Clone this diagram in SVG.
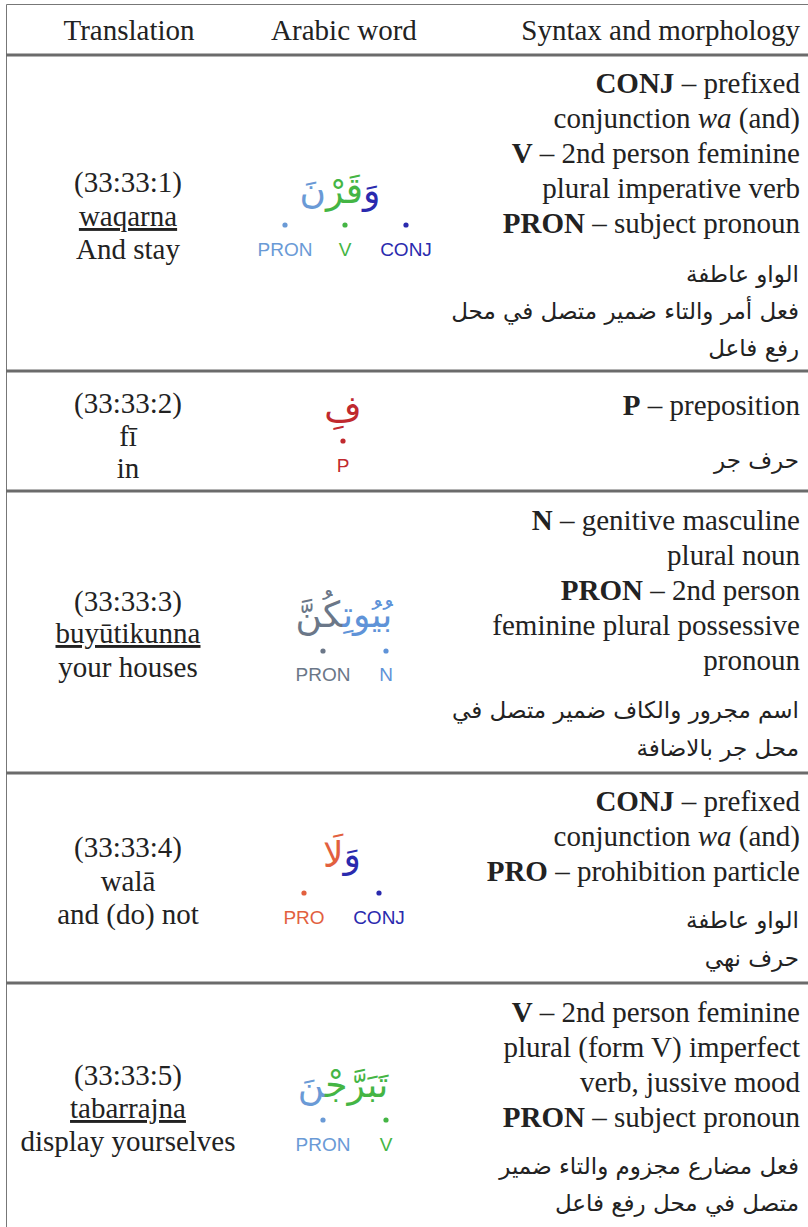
<svg xmlns="http://www.w3.org/2000/svg" width="808" height="1227" viewBox="0 0 808 1227">
<style>
.t{font-family:"Liberation Serif","Times New Roman",serif;font-size:29px;fill:#222}
.c{text-anchor:middle}
.r{text-anchor:end}
.b{font-weight:bold}
.i{font-style:italic}
.u{text-decoration:underline}
.ar{font-family:"DejaVu Sans",sans-serif;font-size:23px;fill:#222;text-anchor:end}
.aw{font-family:"DejaVu Sans",sans-serif;font-size:36px;text-anchor:middle}
.lb{font-family:"Liberation Sans",Arial,sans-serif;font-size:19px;text-anchor:middle}
.thin{stroke:#777;stroke-width:1;fill:none}
.thick{stroke:#6b6b6b;stroke-width:3;fill:none}
.conj{fill:#2a2aae}
.v{fill:#44b544}
.pron{fill:#6a9ad6}
.pron2{fill:#6b7788}
.n{fill:#5f93d8}
.p{fill:#c0292e}
.pro{fill:#e2603e}
</style>
<rect width="808" height="1227" fill="#fff"/>
<g id="grid">
<line class="thin" x1="6.5" y1="4.5" x2="808" y2="4.5"/>
<line class="thin" x1="6.5" y1="4.5" x2="6.5" y2="1227"/>
<line class="thick" x1="6" y1="55" x2="808" y2="55"/>
<line class="thick" x1="6" y1="371" x2="808" y2="371"/>
<line class="thick" x1="6" y1="491" x2="808" y2="491"/>
<line class="thick" x1="6" y1="773" x2="808" y2="773"/>
<line class="thick" x1="6" y1="983" x2="808" y2="983"/>
</g>
<g id="header">
<text class="t c" x="129" y="40">Translation</text>
<text class="t c" x="344" y="40">Arabic word</text>
<text class="t r" x="800" y="40">Syntax and morphology</text>
</g>
<g id="row1">
<text class="t c" x="128" y="192">(33:33:1)</text>
<text class="t c u" x="128" y="226">waqarna</text>
<text class="t c" x="128" y="259">And stay</text>
<text class="aw" x="340" y="203"><tspan class="conj">وَ</tspan><tspan class="v">قَرْ</tspan><tspan class="pron">نَ</tspan></text>
<circle class="pron" cx="285" cy="225" r="2.6"/>
<circle class="v" cx="345" cy="225" r="2.6"/>
<circle class="conj" cx="406" cy="225" r="2.6"/>
<text class="lb pron" x="285" y="256">PRON</text>
<text class="lb v" x="345" y="256">V</text>
<text class="lb conj" x="406" y="256">CONJ</text>
<text class="t r" x="800" y="93"><tspan class="b">CONJ</tspan> – prefixed</text>
<text class="t r" x="800" y="128">conjunction <tspan class="i">wa</tspan> (and)</text>
<text class="t r" x="800" y="163"><tspan class="b">V</tspan> – 2nd person feminine</text>
<text class="t r" x="800" y="198">plural imperative verb</text>
<text class="t r" x="800" y="233"><tspan class="b">PRON</tspan> – subject pronoun</text>
<text class="ar" x="799" y="282">الواو عاطفة</text>
<text class="ar" x="799" y="319">فعل أمر والتاء ضمير متصل في محل</text>
<text class="ar" x="799" y="356">رفع فاعل</text>
</g>
<g id="row2">
<text class="t c" x="128" y="413">(33:33:2)</text>
<text class="t c" x="128" y="446">fī</text>
<text class="t c" x="128" y="478">in</text>
<text class="aw p" x="343" y="421">فِ</text>
<circle class="p" cx="343" cy="441" r="2.6"/>
<text class="lb p" x="343" y="472">P</text>
<text class="t r" x="800" y="415"><tspan class="b">P</tspan> – preposition</text>
<text class="ar" x="799" y="468">حرف جر</text>
</g>
<g id="row3">
<text class="t c" x="128" y="611">(33:33:3)</text>
<text class="t c u" x="128" y="643">buyūtikunna</text>
<text class="t c" x="128" y="677">your houses</text>
<text class="aw" x="344" y="627"><tspan class="n">بُيُوتِ</tspan><tspan class="pron2">كُنَّ</tspan></text>
<circle class="pron2" cx="323" cy="651" r="2.6"/>
<circle class="n" cx="386" cy="651" r="2.6"/>
<text class="lb pron2" x="323" y="681">PRON</text>
<text class="lb n" x="386" y="681">N</text>
<text class="t r" x="800" y="530"><tspan class="b">N</tspan> – genitive masculine</text>
<text class="t r" x="800" y="565">plural noun</text>
<text class="t r" x="800" y="600"><tspan class="b">PRON</tspan> – 2nd person</text>
<text class="t r" x="800" y="635">feminine plural possessive</text>
<text class="t r" x="800" y="670">pronoun</text>
<text class="ar" x="799" y="718">اسم مجرور والكاف ضمير متصل في</text>
<text class="ar" x="799" y="756">محل جر بالاضافة</text>
</g>
<g id="row4">
<text class="t c" x="128" y="857">(33:33:4)</text>
<text class="t c" x="128" y="891">walā</text>
<text class="t c" x="128" y="924">and (do) not</text>
<text class="aw" x="342" y="867"><tspan class="conj">وَ</tspan><tspan class="pro">لَا</tspan></text>
<circle class="pro" cx="304" cy="893" r="2.6"/>
<circle class="conj" cx="379" cy="893" r="2.6"/>
<text class="lb pro" x="304" y="924">PRO</text>
<text class="lb conj" x="379" y="924">CONJ</text>
<text class="t r" x="800" y="811"><tspan class="b">CONJ</tspan> – prefixed</text>
<text class="t r" x="800" y="846">conjunction <tspan class="i">wa</tspan> (and)</text>
<text class="t r" x="800" y="881"><tspan class="b">PRO</tspan> – prohibition particle</text>
<text class="ar" x="799" y="928">الواو عاطفة</text>
<text class="ar" x="799" y="966">حرف نهي</text>
</g>
<g id="row5">
<text class="t c" x="128" y="1085">(33:33:5)</text>
<text class="t c u" x="128" y="1118">tabarrajna</text>
<text class="t c" x="128" y="1151">display yourselves</text>
<text class="aw" x="343" y="1097"><tspan class="v">تَبَرَّجْ</tspan><tspan class="pron">نَ</tspan></text>
<circle class="pron" cx="323" cy="1120" r="2.6"/>
<circle class="v" cx="386" cy="1120" r="2.6"/>
<text class="lb pron" x="323" y="1151">PRON</text>
<text class="lb v" x="386" y="1151">V</text>
<text class="t r" x="800" y="1022"><tspan class="b">V</tspan> – 2nd person feminine</text>
<text class="t r" x="800" y="1057">plural (form V) imperfect</text>
<text class="t r" x="800" y="1092">verb, jussive mood</text>
<text class="t r" x="800" y="1127"><tspan class="b">PRON</tspan> – subject pronoun</text>
<text class="ar" x="799" y="1174">فعل مضارع مجزوم والتاء ضمير</text>
<text class="ar" x="799" y="1211">متصل في محل رفع فاعل</text>
</g>
</svg>
